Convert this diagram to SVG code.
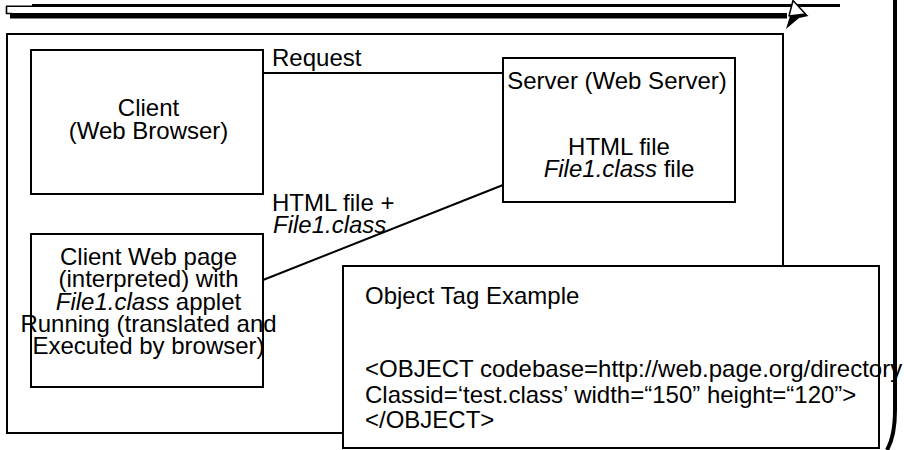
<svg xmlns="http://www.w3.org/2000/svg" width="904" height="450" viewBox="0 0 904 450">
<style>
  .box { fill: #fff; stroke: #000; stroke-width: 2; }
  .ln { fill: none; stroke: #000; stroke-width: 2; }
  text { font-family: "Liberation Sans", Arial, sans-serif; font-size: 24px; fill: #000; }
  .c { text-anchor: middle; }
  .i { font-style: italic; }
</style>
<rect x="0" y="0" width="904" height="450" fill="#fff"/>
<g id="banner">
  <rect x="10" y="13" width="777" height="5.5" fill="#000"/>
  <path d="M6,5.5 L32,5.5 L32,4 L840,4 L840,7 L6,7 Z" fill="#000"/>
  <path d="M6.5,6 V13.5 H12" fill="none" stroke="#000" stroke-width="1.6"/>
  <polygon points="805,13 808.5,16 799,18 786,29 790,16" fill="#000"/>
  <polygon points="793,0.5 805.5,14 789,16" fill="#fff" stroke="#000" stroke-width="1.5" stroke-linejoin="round"/>
  <path d="M895,0 V410 Q895,436 887,450" fill="none" stroke="#000" stroke-width="4"/>
</g>
<g id="frame">
  <rect class="box" x="7" y="34" width="776" height="399"/>
</g>
<g id="connectors">
  <line class="ln" x1="263" y1="73" x2="503" y2="73"/>
  <line class="ln" x1="263" y1="280" x2="503" y2="185"/>
  <text x="272" y="66">Request</text>
  <text x="272" y="210.5">HTML file +</text>
  <text class="i" x="273" y="233">File1.class</text>
</g>
<g id="client">
  <rect class="box" x="31" y="50" width="232" height="144"/>
  <text class="c" x="148.5" y="116">Client</text>
  <text class="c" x="148.5" y="138.5">(Web Browser)</text>
</g>
<g id="server">
  <rect class="box" x="503" y="58" width="232" height="144"/>
  <text class="c" x="617" y="89">Server (Web Server)</text>
  <text class="c" x="619" y="155">HTML file</text>
  <text class="c" x="619" y="177"><tspan class="i">File1.class</tspan> file</text>
</g>
<g id="client-page">
  <rect class="box" x="31" y="234" width="232" height="153"/>
  <text class="c" x="148.5" y="265">Client Web page</text>
  <text class="c" x="148.5" y="287">(interpreted) with</text>
  <text class="c" x="148.5" y="309.5"><tspan class="i">File1.class</tspan> applet</text>
  <text class="c" x="148.5" y="331.5">Running (translated and</text>
  <text class="c" x="148.5" y="354">Executed by browser)</text>
</g>
<g id="object-tag">
  <rect class="box" x="343" y="266" width="536" height="182"/>
  <text x="365" y="304">Object Tag Example</text>
  <text x="365" y="377">&lt;OBJECT codebase=http://web.page.org/directory</text>
  <text x="365" y="402.5">Classid=‘test.class’ width=“150” height=“120”&gt;</text>
  <text x="365" y="428">&lt;/OBJECT&gt;</text>
</g>
</svg>
